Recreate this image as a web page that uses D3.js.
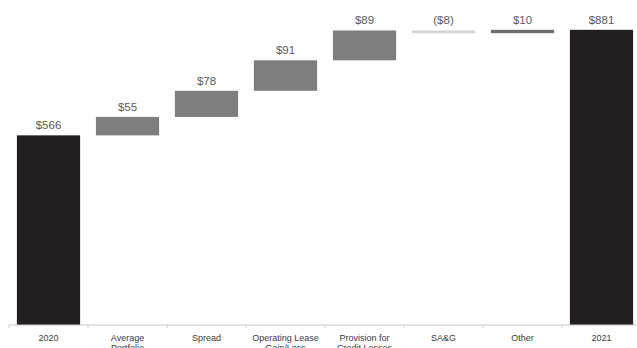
<!DOCTYPE html>
<html>
<head>
<meta charset="utf-8">
<script src="https://cdn.jsdelivr.net/npm/d3@7"></script>
<style>
  body { margin: 0; background: #fff; }
  .val { font-family: "Liberation Sans", Arial, sans-serif; font-size: 11.5px; fill: #5a5a5a; }
  .axis text { font-family: "Liberation Sans", Arial, sans-serif; font-size: 9px; fill: #3a3a3a; }
</style>
</head>
<body>
<div id="chart"></div>
<script>
var width = 637;
var height = 348;

// data
var categories = ["2020", "Average Portfolio", "Spread", "Operating Lease Gain/Loss",
	"Provision for Credit Losses", "SA&G", "Other", "2021"];
var labelLines = [["2020"], ["Average", "Portfolio"], ["Spread"], ["Operating Lease", "Gain/Loss"],
	["Provision for", "Credit Losses"], ["SA&G"], ["Other"], ["2021"]];
var values = [566, 55, 78, 91, 89, -8, 10, 881];
var kinds = ["total", "step", "step", "step", "step", "step", "step", "total"];
var valueLabels = ["$566", "$55", "$78", "$91", "$89", "($8)", "$10", "$881"];

var svg = d3.select("#chart").append("svg")
	.attr("width", width)
	.attr("height", height);

var x = d3.scaleBand()
	.domain(categories)
	.range([9, 641])
	.paddingInner(0.2)
	.paddingOuter(0.1);

var y = d3.scaleLinear()
	.domain([0, 970])
	.range([325, 0]);

// build waterfall start/end
var run = 0;
var rows = categories.map(function(c, i) {
	var r = { name: c, value: values[i], kind: kinds[i], label: valueLabels[i] };
	if (kinds[i] == "total") {
		r.y0 = 0; r.y1 = values[i]; run = values[i];
	} else {
		r.y0 = run; r.y1 = run + values[i]; run = r.y1;
	}
	return r;
});

function barColor(d) {
	if (d.kind == "total") return "#231f20";
	if (d.value < 0) return "#d4d4d4";
	if (d.name == "Other") return "#6e6e6e";
	return "#7e7e7e";
}

svg.selectAll(".bar")
	.data(rows)
	.enter()
	.append("rect")
		.attr("class", "bar")
		.attr("x", function(d) { return x(d.name); })
		.attr("width", x.bandwidth())
		.attr("y", function(d) { return y(Math.max(d.y0, d.y1)); })
		.attr("height", function(d) { return Math.max(2, Math.abs(y(d.y0) - y(d.y1))); })
		.attr("fill", barColor);

svg.selectAll(".val")
	.data(rows)
	.enter()
	.append("text")
		.attr("class", "val")
		.attr("x", function(d) { return x(d.name) + x.bandwidth() / 2; })
		.attr("y", function(d) { return y(Math.max(d.y0, d.y1)) - 6; })
		.attr("text-anchor", "middle")
		.text(function(d) { return d.label; });

// axis
var gAxis = svg.append("g")
	.attr("class", "axis")
	.attr("transform", "translate(0," + y(0) + ")");

gAxis.append("line")
	.attr("x1", 9)
	.attr("x2", 641)
	.attr("stroke", "#c8c8c8");

gAxis.selectAll(".tick-line")
	.data(categories)
	.enter()
	.append("line")
		.attr("x1", function(d) { return x(d) - x.step() * x.paddingInner() / 2; })
		.attr("x2", function(d) { return x(d) - x.step() * x.paddingInner() / 2; })
		.attr("y1", 0)
		.attr("y2", 3)
		.attr("stroke", "#c8c8c8");

var labels = gAxis.selectAll(".cat")
	.data(categories)
	.enter()
	.append("text")
		.attr("class", "cat")
		.attr("x", function(d) { return x(d) + x.bandwidth() / 2; })
		.attr("y", 16)
		.attr("text-anchor", "middle");

labels.each(function(d, i) {
	var t = d3.select(this);
	labelLines[i].forEach(function(line, j) {
		t.append("tspan")
			.attr("x", x(d) + x.bandwidth() / 2)
			.attr("dy", j == 0 ? 0 : 10)
			.text(line);
	});
});
</script>
</body>
</html>
